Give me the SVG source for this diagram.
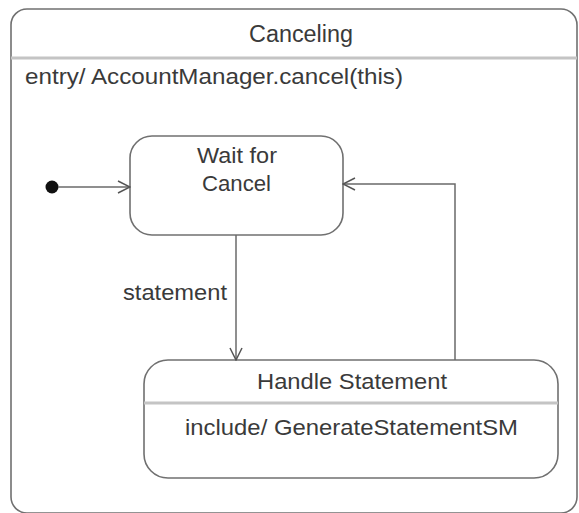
<svg xmlns="http://www.w3.org/2000/svg" width="579" height="513" viewBox="0 0 579 513">
<defs>
<style>
.st{fill:#fff;stroke:#707070;stroke-width:1.6}
.div{stroke:#c4c4c4;stroke-width:3}
.t{font-family:"Liberation Sans",Arial,sans-serif;font-size:22px;fill:#3a3a3a}
.c{text-anchor:middle}
.ln{fill:none;stroke:#6a6a6a;stroke-width:1.5}
</style>
<marker id="open" viewBox="0 0 14 14" refX="13" refY="7" markerWidth="14" markerHeight="14" markerUnits="userSpaceOnUse" orient="auto">
<path d="M1,1 L13,7 L1,13" fill="none" stroke="#555" stroke-width="1.5"/>
</marker>
</defs>
<rect width="579" height="513" fill="#fff"/>
<g id="canceling">
<rect class="st" x="11" y="9" width="566" height="504" rx="16"/>
<line class="div" x1="11" y1="58" x2="577" y2="58"/>
<text class="t" x="249" y="42" style="font-size:23px" textLength="104" lengthAdjust="spacingAndGlyphs">Canceling</text>
<text class="t" x="25" y="84" textLength="378" lengthAdjust="spacingAndGlyphs">entry/ AccountManager.cancel(this)</text>
</g>
<g id="initial">
<circle cx="52" cy="187" r="6.5" fill="#111"/>
</g>
<g id="wait">
<rect class="st" x="130" y="136" width="213" height="99" rx="22"/>
<text class="t" x="197" y="163" textLength="80" lengthAdjust="spacingAndGlyphs">Wait for</text>
<text class="t" x="202" y="191" textLength="69" lengthAdjust="spacingAndGlyphs">Cancel</text>
</g>
<g id="handle">
<rect class="st" x="144" y="360" width="414" height="118" rx="24"/>
<line class="div" x1="144" y1="403" x2="558" y2="403"/>
<text class="t" x="257" y="389" textLength="190" lengthAdjust="spacingAndGlyphs">Handle Statement</text>
<text class="t" x="185" y="435" textLength="333" lengthAdjust="spacingAndGlyphs">include/ GenerateStatementSM</text>
</g>
<g id="connectors">
<line class="ln" x1="58" y1="187" x2="130" y2="187" marker-end="url(#open)"/>
<line class="ln" x1="236" y1="235" x2="236" y2="360" marker-end="url(#open)"/>
<text class="t" x="123" y="300" textLength="104" lengthAdjust="spacingAndGlyphs">statement</text>
<polyline class="ln" points="455,360 455,184 343,184" marker-end="url(#open)"/>
</g>
</svg>
